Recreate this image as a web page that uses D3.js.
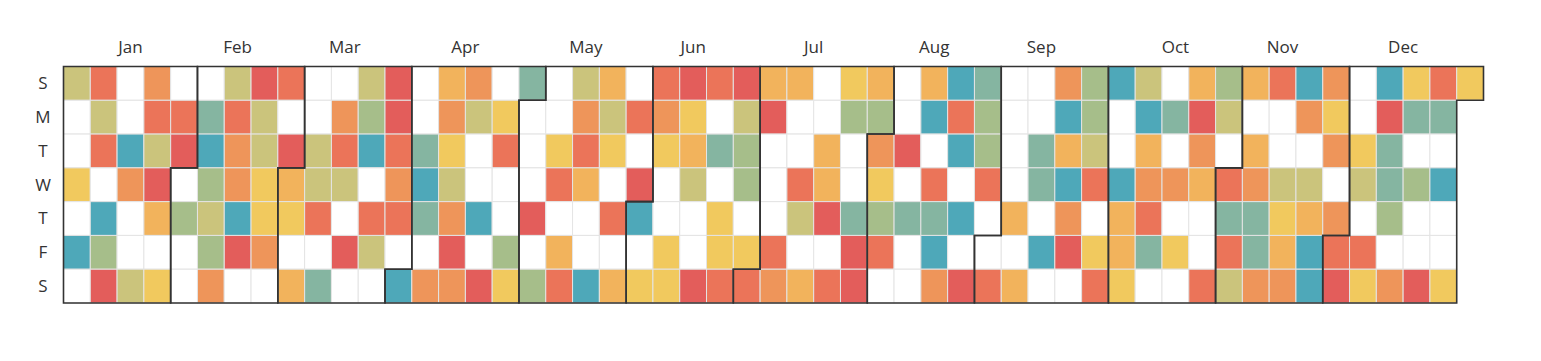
<!DOCTYPE html>
<html>
<head>
<meta charset="utf-8">
<script src="https://cdn.jsdelivr.net/npm/d3@7"></script>
<style>
  html, body { margin: 0; padding: 0; background: #fff; }
  svg { display: block; }
  text { font-family: "Open Sans", "Noto Sans", sans-serif; fill: #333; }
</style>
</head>
<body>
<svg id="chart" width="1541" height="361"></svg>
<script>
const year = 2017;
const monthNames = ["Jan","Feb","Mar","Apr","May","Jun","Jul","Aug","Sep","Oct","Nov","Dec"];
const dayLabels = ["S","M","T","W","T","F","S"];

// daily values per month (0 = no value), level 1..9
const jan = [6,0,0,5,0,9,0, 2,6,2,0,9,7,1, 0,0,9,3,0,0,6, 3,2,6,1,4,0,5, 0,2,1];
const feb = [0,7,0,0, 0,8,9,7,6,7,3, 6,2,3,3,9,1,0, 1,6,6,5,5,3,0, 2,0,1];
const mar = [4,5,0,4, 0,0,6,6,2,0,8, 0,3,2,6,0,1,0, 6,7,9,0,2,6,0, 1,1,2,3,2,0];
const apr = [9, 0,0,8,9,8,0,3, 4,3,5,6,3,1,3, 3,6,0,0,9,0,1, 0,5,2,0,0,7,5, 8];
const may = [0,0,0,1,0,7, 0,0,5,2,0,4,2, 6,3,2,4,0,0,9, 4,6,5,0,2,0,4, 0,2,0,1];
const jun = [9,0,5, 2,3,5,0,0,5,5, 1,5,4,6,0,0,1, 2,0,8,0,5,5,2, 1,6,7,7,0,5];
const jul = [2, 4,1,0,0,0,2,3, 4,0,0,2,6,0,4, 0,0,4,4,1,0,2, 5,7,0,0,8,1,1, 4,7];
const aug = [3,5,7,2,0, 0,0,1,0,8,0,0, 4,9,0,2,8,9,3, 9,2,9,0,9,0,1, 8,7,7,2,0];
const sep = [0,2, 0,0,0,0,4,0,4, 0,0,8,8,0,9,0, 3,9,4,9,3,1,0, 7,7,6,2,0,5,2];
const oct = [9,0,0,9,4,4,5, 6,9,4,3,2,8,0, 0,8,0,3,0,5,0, 4,1,3,4,0,0,2, 7,6,0];
const nov = [2,8,2,6, 4,0,4,3,8,8,3, 2,0,0,6,5,4,3, 9,3,0,6,4,9,9, 3,5,3,0,3];
const dec = [2,1, 0,0,5,6,0,2,5, 9,1,8,8,7,0,3, 5,8,0,7,0,0,1, 2,8,0,9,0,0,5, 5];

const monthValues = [jan,feb,mar,apr,may,jun,jul,aug,sep,oct,nov,dec];
const levels = [1,2,3,4,5,6,7,8,9];
const palette = ["#e35d5b","#eb7459","#ee955a","#f2b35c","#f1c95e","#cbc47c","#a6be8a","#85b5a1","#4ea8b9"];

const days = [];
monthValues.forEach((arr, m) => {
  arr.forEach((v, i) => days.push({ date: new Date(year, m, i + 1), value: v }));
});

const weekOf = d => d3.timeWeek.count(d3.timeYear(d), d);

const x = d3.scaleLinear().domain([0, 53]).range([63.5, 1483.5]);
const y = d3.scaleLinear().domain([0, 7]).range([66.5, 303]);
const color = d3.scaleOrdinal().domain(levels).range(palette).unknown("#ffffff");

const svg = d3.select("#chart");

// cells
svg.append("g")
  .selectAll("rect")
  .data(days)
  .join("rect")
  .attr("x", d => x(weekOf(d.date)))
  .attr("y", d => y(d.date.getDay()))
  .attr("width", d => x(weekOf(d.date) + 1) - x(weekOf(d.date)))
  .attr("height", d => y(d.date.getDay() + 1) - y(d.date.getDay()))
  .attr("fill", d => d.value ? color(d.value) : "#ffffff")
  .attr("stroke", "#e4e4e4")
  .attr("stroke-width", 1);

// month outlines
const months = d3.timeMonths(new Date(year, 0, 1), new Date(year + 1, 0, 1));
function pathMonth(t0) {
  const t1 = new Date(t0.getFullYear(), t0.getMonth() + 1, 0);
  const d0 = t0.getDay(), w0 = weekOf(t0);
  const d1 = t1.getDay(), w1 = weekOf(t1);
  return "M" + x(w0 + 1) + "," + y(d0) +
    "H" + x(w0) + "V" + y(7) +
    "H" + x(w1) + "V" + y(d1 + 1) +
    "H" + x(w1 + 1) + "V" + y(0) +
    "H" + x(w0 + 1) + "Z";
}
svg.append("g")
  .selectAll("path")
  .data(months)
  .join("path")
  .attr("d", pathMonth)
  .attr("fill", "none")
  .attr("stroke", "#333")
  .attr("stroke-width", 1.6);

// month labels
svg.append("g")
  .selectAll("text")
  .data(months)
  .join("text")
  .attr("x", m => {
    const t1 = new Date(m.getFullYear(), m.getMonth() + 1, 0);
    return (x(weekOf(m)) + x(weekOf(t1) + 1)) / 2;
  })
  .attr("y", 53)
  .attr("text-anchor", "middle")
  .attr("font-size", 17)
  .text(m => monthNames[m.getMonth()]);

// day labels
svg.append("g")
  .selectAll("text")
  .data(dayLabels)
  .join("text")
  .attr("x", 43)
  .attr("y", (d, i) => (y(i) + y(i + 1)) / 2)
  .attr("dy", "0.35em")
  .attr("text-anchor", "middle")
  .attr("font-size", 17)
  .text(d => d);
</script>
</body>
</html>
